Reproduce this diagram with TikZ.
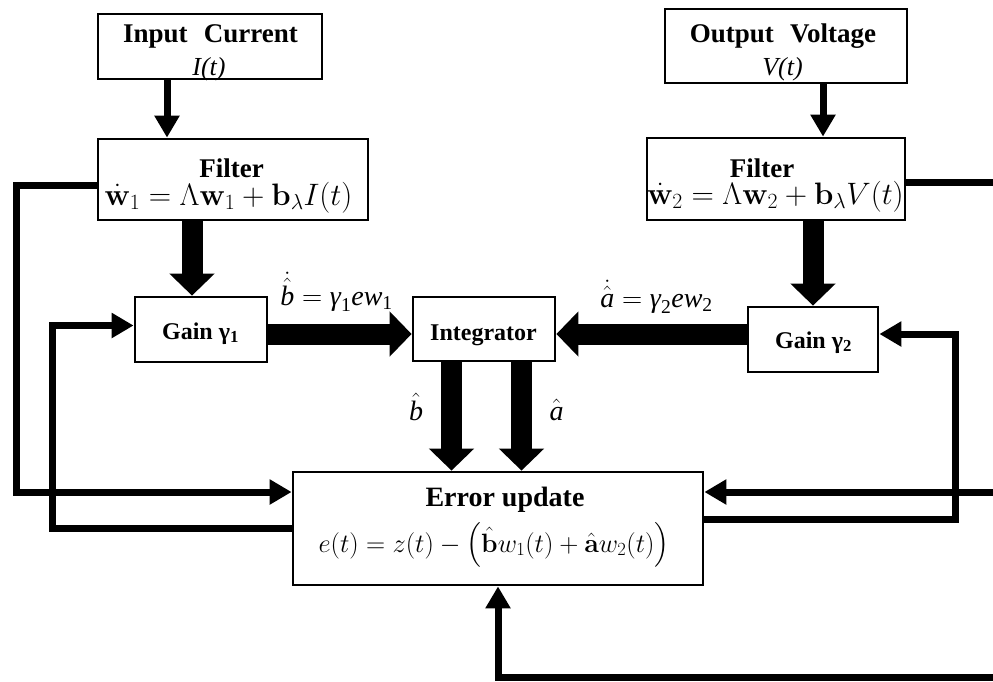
\RequirePackage{fix-cm}
\documentclass[tikz,border=0pt]{standalone}
\usepackage{amsmath}
\usepackage[no-math]{fontspec}
\setmainfont{Liberation Serif}
\usetikzlibrary{arrows.meta}
\begin{document}
\begin{tikzpicture}[x=1pt,y=-1pt,
  blk/.style={draw,line width=2.8pt,inner sep=0pt},
  txt/.style={inner sep=0pt,anchor=base},
  thinarrow/.style={line width=7pt,-{Triangle[width=24pt,length=22pt]}},
  thinline/.style={line width=7pt},
  thickarrow/.style={line width=21pt,-{Triangle[width=44pt,length=22pt]}},
  ttl/.style={txt,font=\fontsize{27}{31}\selectfont\bfseries},
  gtl/.style={txt,font=\fontsize{24}{28}\selectfont\bfseries},
  lbl/.style={txt,font=\fontsize{28}{32}\selectfont}
]
\fill[white] (0,0) rectangle (993,681);
\useasboundingbox (0,0) rectangle (993,681);

% boxes
\node[blk,minimum width=224pt,minimum height=65pt] (inp) at (210,46.5) {};
\node[blk,minimum width=242pt,minimum height=74pt] (out) at (786,46) {};
\node[blk,minimum width=270pt,minimum height=81pt] (f1) at (233,179.5) {};
\node[blk,minimum width=258pt,minimum height=82pt] (f2) at (776,179) {};
\node[blk,minimum width=132pt,minimum height=65pt] (g1) at (201,329.5) {};
\node[blk,minimum width=142pt,minimum height=64pt] (int) at (484,329) {};
\node[blk,minimum width=130pt,minimum height=65pt] (g2) at (813,339.5) {};
\node[blk,minimum width=410pt,minimum height=113pt] (err) at (498,528.5) {};

% texts
\node[ttl] (inpT) at (210.5,42) {Input\hspace{0.6em}Current};
\node[txt,font=\fontsize{26}{30}\selectfont\itshape] (inpV) at (209,75) {I(t)};
\node[ttl] (outT) at (783,42) {Output\hspace{0.6em}Voltage};
\node[txt,font=\fontsize{26}{30}\selectfont\itshape] (outV) at (782.5,75) {V(t)};
\node[ttl] (f1T) at (231.5,177) {Filter};
\node[txt,font=\fontsize{31}{36}\selectfont] (f1E) at (228.5,205) {$\dot{\mathbf{w}}_1=\Lambda\mathbf{w}_1+\mathbf{b}_\lambda I(t)$};
\node[ttl] (f2T) at (762,177) {Filter};
\node[txt,font=\fontsize{31}{36}\selectfont] (f2E) at (775.5,204) {$\dot{\mathbf{w}}_2=\Lambda\mathbf{w}_2+\mathbf{b}_\lambda V(t)$};
\node[gtl] (g1T) at (200.5,339) {Gain γ\textsubscript{1}};
\node[gtl] (intT) at (483.5,340) {Integrator};
\node[gtl] (g2T) at (813.5,348) {Gain γ\textsubscript{2}};
\node[txt,font=\fontsize{28}{32}\selectfont\bfseries] (errT) at (505,506) {Error update};
\node[txt,font=\fontsize{26.5}{31}\selectfont] (errE) at (494,552) {$e(t)=z(t)-\Big(\hat{\mathbf{b}}w_1(t)+\hat{\mathbf{a}}w_2(t)\Big)$};
\node[lbl] (lb) at (336.5,305) {$\dot{\hat{\textit{b}}}=\textit{γ}_{\text{1}}\textit{ew}_{\text{1}}$};
\node[lbl] (la) at (656.5,307) {$\dot{\hat{\textit{a}}}=\textit{γ}_{\text{2}}\textit{ew}_{\text{2}}$};
\node[lbl] (bh) at (416,420) {$\hat{\textit{b}}$};
\node[lbl] (ah) at (556.5,420) {$\hat{\textit{a}}$};

% thin arrows from sources
\coordinate (a1) at ([xshift=-43pt]inp.south);
\draw[thinarrow] (a1) -- (a1 |- f1.north);
\coordinate (a2) at ([xshift=37pt]out.south);
\draw[thinarrow] (a2) -- (a2 |- f2.north);

% thick arrows
\coordinate (t1) at ([xshift=-9pt]g1.north);
\draw[thickarrow] (f1.south -| t1) -- (t1);
\draw[thickarrow] (f2.south -| g2.north) -- (g2.north);
\coordinate (t3) at ([yshift=-4.5pt]g1.east);
\draw[thickarrow] (t3) -- (t3 -| int.west);
\coordinate (t4) at ([yshift=5.5pt]g2.west);
\draw[thickarrow] (t4) -- (t4 -| int.east);
\coordinate (t5) at ([xshift=-32.5pt]int.south);
\draw[thickarrow] (t5) -- (t5 |- err.north);
\coordinate (t6) at ([xshift=37.5pt]int.south);
\draw[thickarrow] (t6) -- (t6 |- err.north);

% feedback lines
\coordinate (lo) at (16,492);
\draw[thinarrow] ([yshift=-5.5pt]f1.west) -| (lo) -- (lo -| err.west);
\coordinate (li) at (52,325.5);
\draw[thinarrow] (err.west) -| (li) -- (li -| g1.west);
\coordinate (ro) at (1000,182);
\draw[thinline] ([yshift=-3pt]f2.east) -- ([yshift=-3pt]f2.east -| ro);
\coordinate (r2) at (1000,492);
\draw[thinarrow] (r2) -- (r2 -| err.east);
\coordinate (rl) at (955,334);
\draw[thinarrow] ([yshift=9.5pt]err.east) -| (rl) -- (rl -| g2.east);
\coordinate (bt) at (1000,677);
\draw[thinarrow] (bt) -| (err.south);
\end{tikzpicture}
\end{document}
